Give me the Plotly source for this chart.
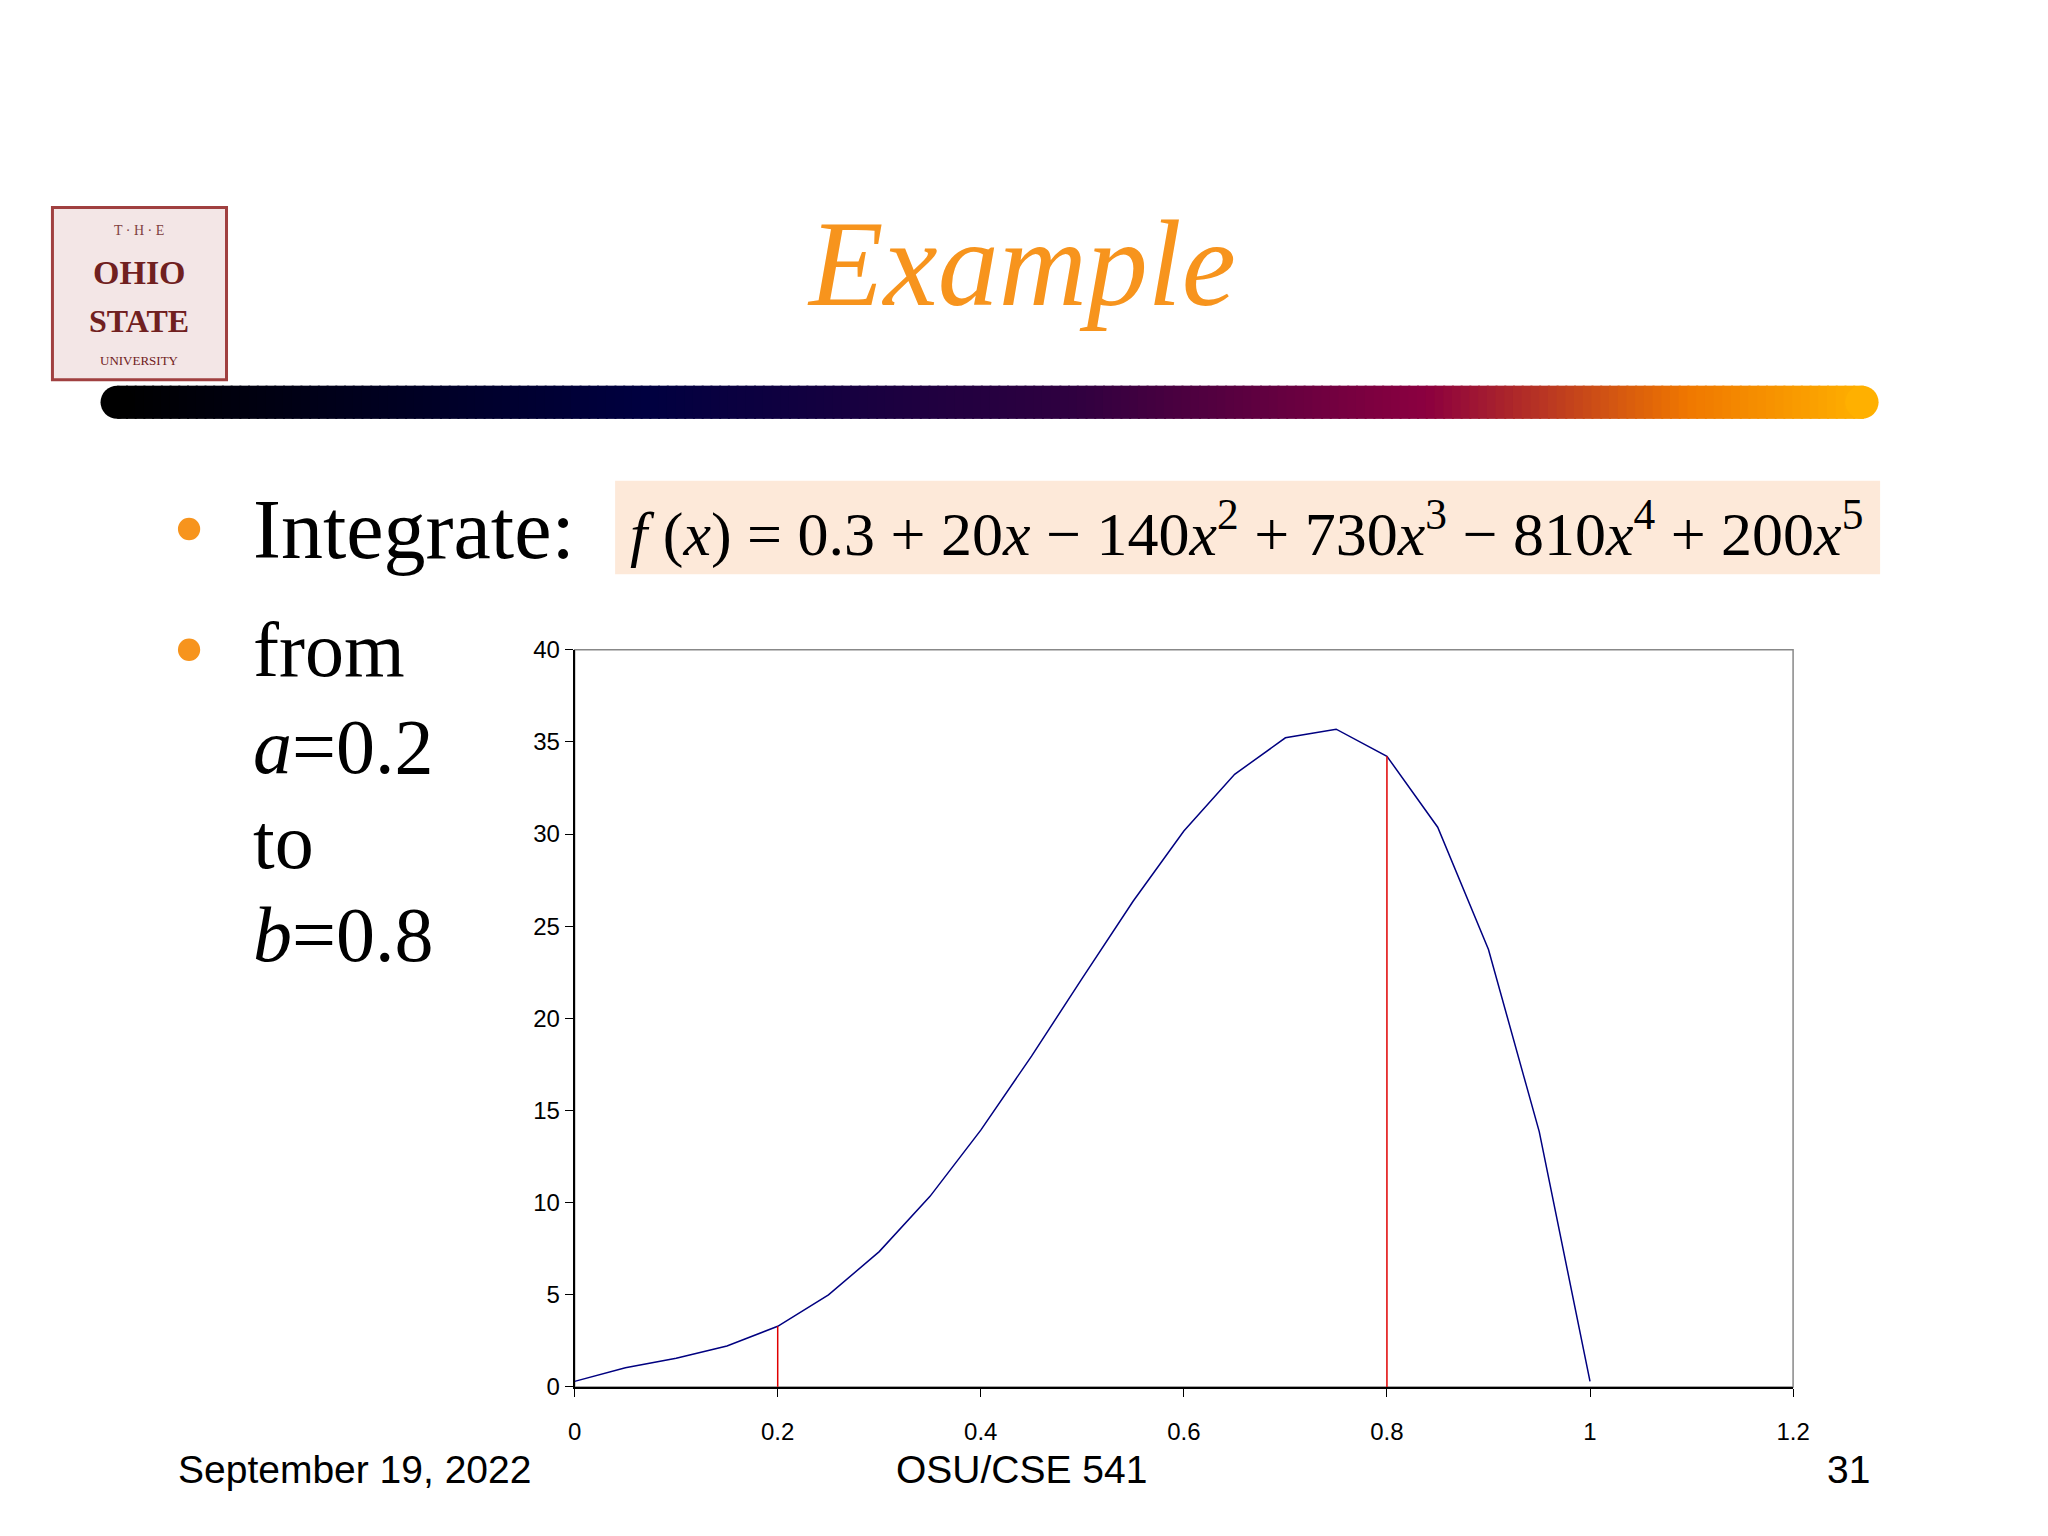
import plotly.graph_objects as go

x_vals = [0, 0.05, 0.1, 0.15, 0.2, 0.25, 0.3, 0.35, 0.4, 0.45, 0.5, 0.55, 0.6, 0.65, 0.7, 0.75, 0.8, 0.85, 0.9, 0.95, 1.0]
y_vals = [0.3, 1.04, 1.55, 2.22, 3.29, 4.99, 7.34, 10.34, 13.93, 17.95, 22.18, 26.35, 30.16, 33.24, 35.22, 35.69, 34.22, 30.37, 23.73, 13.85, 0.3]
limits_x = [0.2, 0.8]
limits_y = [3.29, 34.22]
x_ticks = [0, 0.2, 0.4, 0.6, 0.8, 1, 1.2]
y_ticks = [0, 5, 10, 15, 20, 25, 30, 35, 40]

DX, DY = -0.0075, 0.012
def px(v): return v + DX
def py(v): return v + DY

fig = go.Figure()
fig.add_trace(go.Scatter(x=x_vals, y=y_vals, mode="lines", line=dict(color="#000080", width=1.5), showlegend=False))
for lx, ly in zip(limits_x, limits_y):
    fig.add_trace(go.Scatter(x=[lx, lx], y=[0, ly], mode="lines", line=dict(color="#e00000", width=1.5), showlegend=False))

dom_x = [px(0.284), px(0.886)]
dom_y = [py(0.0835), py(0.572)]
shapes = []
def R(x0, x1, y0, y1, **kw):
    shapes.append(dict(type=kw.pop("type", "rect"), xref="paper", yref="paper", x0=px(x0), x1=px(x1), y0=py(y0), y1=py(y1), **kw))

shapes.append(dict(type="rect", xref="paper", yref="paper", x0=dom_x[0], x1=dom_x[1], y0=dom_y[0], y1=dom_y[1],
                   line=dict(color="#888888", width=1.5), layer="below"))
stops = [(0, (0, 0, 0)), (0.3, (0, 0, 64)), (0.55, (48, 0, 64)), (0.75, (140, 0, 64)), (0.9, (240, 120, 0)), (1, (255, 176, 0))]
def col(t):
    for (t0, c0), (t1, c1) in zip(stops[:-1], stops[1:]):
        if t0 <= t <= t1:
            f = (t - t0) / (t1 - t0)
            return "rgb(%d,%d,%d)" % tuple(int(a + (b - a) * f) for a, b in zip(c0, c1))
    return "rgb(255,176,0)"
bx0, bx1, by0, by1 = 0.058, 0.920, 0.725, 0.747
n = 200
for i in range(n):
    t = (i + 0.5) / n
    R(bx0 + (bx1 - bx0) * i / n, bx0 + (bx1 - bx0) * (i + 1) / n + 0.001, by0, by1, fillcolor=col(t), line=dict(width=0))
r = 0.011 * 1536 / 2048
R(bx0 - r, bx0 + r, by0, by1, type="circle", fillcolor=col(0), line=dict(width=0))
R(bx1 - r, bx1 + r, by0, by1, type="circle", fillcolor=col(1), line=dict(width=0))
R(0.026, 0.112, 0.751, 0.865, fillcolor="#f3e6e6", line=dict(color="#a04040", width=3))
R(0.304, 0.929, 0.622, 0.684, fillcolor="#fde9d9", line=dict(width=0), layer="below")
for yy in [0.652, 0.572]:
    R(0.088, 0.099, yy - 0.0075, yy + 0.0075, type="circle", fillcolor="#f7941d", line=dict(width=0))

serif = "Liberation Serif, Times New Roman, serif"
ann = []
def A(text, x, y, size, xanchor="left", color="black", family=serif):
    ann.append(dict(text=text, x=px(x), y=py(y), xref="paper", yref="paper", showarrow=False, xanchor=xanchor, yanchor="middle",
                    font=dict(size=size, color=color, family=family)))
A("<i>Example</i>", 0.505, 0.828, 122, "center", "#f7941d")
A("T · H · E", 0.069, 0.850, 14, "center", "#804040")
A("<b>OHIO</b>", 0.069, 0.822, 34, "center", "#702020")
A("<b>STATE</b>", 0.069, 0.790, 32, "center", "#702020")
A("UNIVERSITY", 0.069, 0.764, 13, "center", "#702020")
A("Integrate:", 0.124, 0.652, 84)
A("<i>f</i> (<i>x</i>) = 0.3 + 20<i>x</i> − 140<i>x</i><sup>2</sup> + 730<i>x</i><sup>3</sup> − 810<i>x</i><sup>4</sup> + 200<i>x</i><sup>5</sup>",
  0.616, 0.652, 62, "center")
A("from", 0.124, 0.572, 78)
A("<i>a</i>=0.2", 0.124, 0.508, 78)
A("to", 0.124, 0.445, 78)
A("<i>b</i>=0.8", 0.124, 0.383, 78)
A("September 19, 2022", 0.087, 0.029, 39, "left", family="Liberation Sans, Arial")
A("OSU/CSE 541", 0.505, 0.029, 39, "center", family="Liberation Sans, Arial")
A("31", 0.925, 0.029, 39, "right", family="Liberation Sans, Arial")

tf = dict(size=24, family="Liberation Sans, Arial", color="black")
fig.update_layout(
    width=2048, height=1536, margin=dict(l=0, r=0, t=0, b=0),
    paper_bgcolor="white", plot_bgcolor="white",
    shapes=shapes, annotations=ann,
    xaxis=dict(domain=dom_x, range=[0, 1.2], tickvals=x_ticks, ticktext=[str(v) for v in x_ticks], showgrid=False, zeroline=False,
               showline=True, linecolor="black", linewidth=2, ticks="outside", ticklen=8, tickcolor="black", tickfont=tf,
               ticklabelstandoff=14),
    yaxis=dict(domain=dom_y, range=[0, 40], tickvals=y_ticks, showgrid=False, zeroline=False,
               showline=True, linecolor="black", linewidth=2, ticks="outside", ticklen=8, tickcolor="black", tickfont=tf),
)
fig.write_html("out.html")
